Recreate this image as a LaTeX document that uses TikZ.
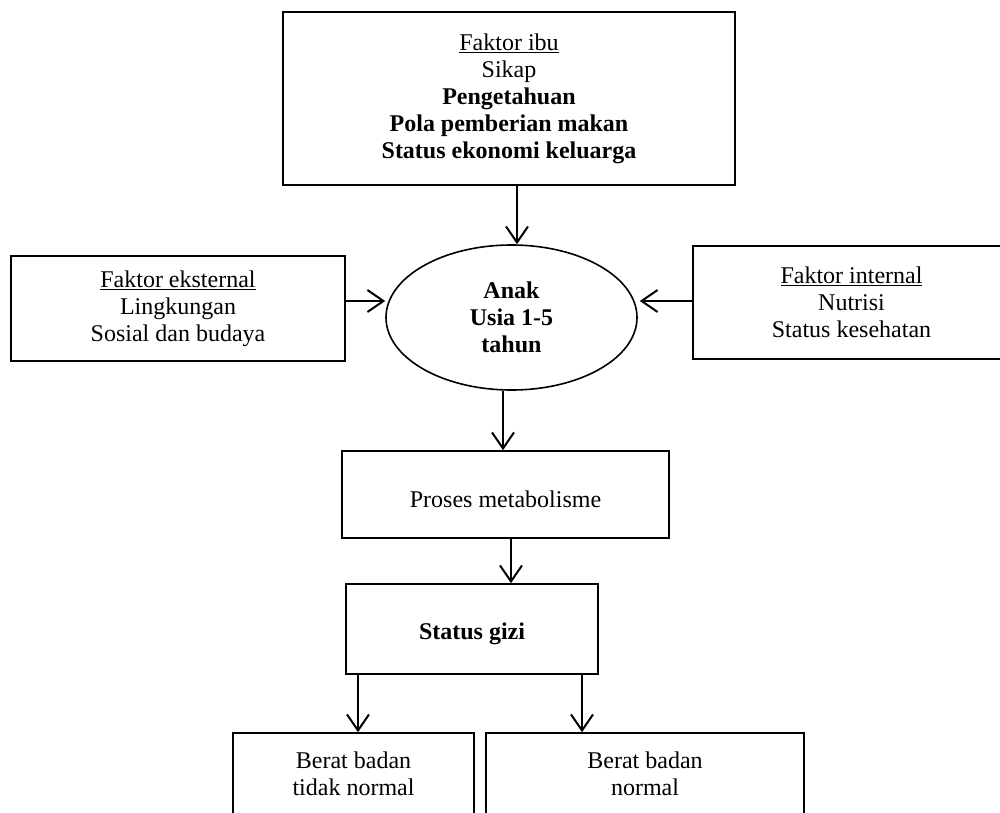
\documentclass[tikz,border=0pt]{standalone}
\usepackage{fontspec}
\setmainfont{Liberation Serif}
\usetikzlibrary{arrows.meta,shapes.geometric}
\begin{document}
\begin{tikzpicture}[x=1pt,y=-1pt,
  every node/.style={font=\fontsize{24}{27}\selectfont, align=center, inner sep=0pt},
  box/.style={draw, line width=1.6pt, rectangle},
  oval/.style={draw, line width=1.6pt, ellipse},
  arr/.style={line width=2pt, -{Straight Barb[length=16pt,width=22pt,line width=2pt]}}]
\useasboundingbox (0,0) rectangle (1000,812);
\clip (0,0) rectangle (1000,812);

\node[box, minimum width=452pt, minimum height=173pt] (ibu) at (509,98.5)
  {\underline{Faktor ibu}\\Sikap\\\textbf{Pengetahuan}\\\textbf{Pola pemberian makan}\\\textbf{Status ekonomi keluarga}};
\node[box, minimum width=334pt, minimum height=105pt] (eks) at (178,308.5)
  {\underline{Faktor eksternal}\\Lingkungan\\Sosial dan budaya};
\node[box, minimum width=317pt, minimum height=113pt] (int) at (851.5,302.5)
  {\underline{Faktor internal}\\Nutrisi\\Status kesehatan};
\node[oval, minimum width=251pt, minimum height=145pt] (anak) at (511.5,317.5)
  {\textbf{Anak}\\\textbf{Usia 1-5}\\\textbf{tahun}};
\node[box, minimum width=327pt, minimum height=87pt] (pros) at (505.5,494.5)
  {\mbox{}\\Proses metabolisme};
\node[box, minimum width=252pt, minimum height=90pt] (gizi) at (472,629)
  {\mbox{}\\\textbf{Status gizi}};
\node[box, minimum width=241pt, minimum height=108pt] (tdk) at (353.5,787)
  {Berat badan\\tidak normal\\\mbox{}};
\node[box, minimum width=318pt, minimum height=108pt] (nor) at (645,787)
  {Berat badan\\normal\\\mbox{}};

\draw[arr] ([xshift=8pt]ibu.south) -- ([xshift=5.5pt]anak.north);
\draw[arr] ([yshift=7.5pt]eks.east) -- ([yshift=16.5pt]anak.west);
\draw[arr] ([yshift=1.5pt]int.west) -- ([yshift=16.5pt,xshift=2pt]anak.east);
\draw[arr] ([xshift=-8.5pt]anak.south) -- ([xshift=-2.5pt]pros.north);
\draw[arr] ([xshift=5.5pt]pros.south) -- ([xshift=39pt]gizi.north);
\draw[arr] ([xshift=-114pt]gizi.south) -- ([xshift=4.5pt]tdk.north);
\draw[arr] ([xshift=110pt]gizi.south) -- ([xshift=-63pt]nor.north);
\end{tikzpicture}
\end{document}
